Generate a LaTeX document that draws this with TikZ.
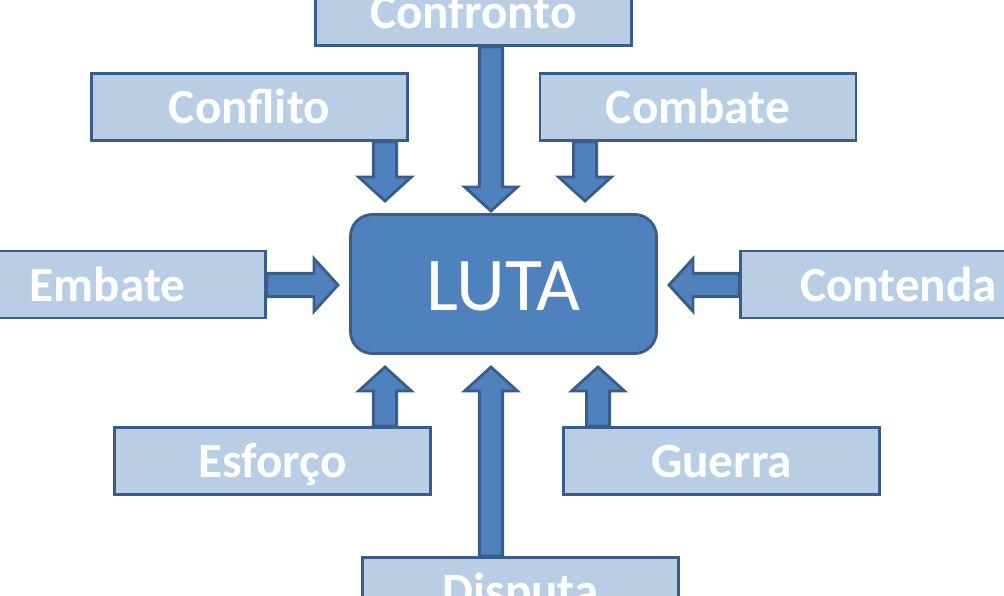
\documentclass[tikz,border=0pt]{standalone}
\usepackage{fontspec}
\setmainfont{Carlito}
\usetikzlibrary{calc}

\definecolor{boxfill}{HTML}{B9CDE5}
\definecolor{boxline}{HTML}{385D8A}
\definecolor{lutafill}{HTML}{4F81BD}

\tikzset{
  termo/.style={draw=boxline, fill=boxfill, line width=2pt, minimum width=7.9cm, minimum height=1.675cm,
    inner sep=0pt, text height=23.5pt, text depth=0pt, text=white, font=\bfseries\fontsize{35}{35}\selectfont},
  centro/.style={draw=boxline, fill=lutafill, line width=2pt, rounded corners=0.55cm, minimum width=7.65cm,
    minimum height=3.475cm, inner sep=0pt, text height=38pt, text depth=0pt, text=white,
    font=\fontsize{54}{54}\selectfont},
  seta/.style={draw=boxline, fill=lutafill, line width=2pt}
}

% block arrow from #1 to tip #2
\newcommand{\blockarrow}[2]{%
  \draw[seta] ($(#1)!0.29cm!90:(#2)$) -- ($(#2)!0.6cm!(#1)!0.29cm!-90:(#1)$)
    -- ($(#2)!0.6cm!(#1)!0.66cm!-90:(#1)$) -- (#2)
    -- ($(#2)!0.6cm!(#1)!0.66cm!90:(#1)$) -- ($(#2)!0.6cm!(#1)!0.29cm!90:(#1)$)
    -- ($(#1)!0.29cm!-90:(#2)$) -- cycle;}

\begin{document}
\begin{tikzpicture}[x=0.025cm, y=-0.025cm]
    \useasboundingbox (0,0) rectangle (1004,596);

    % Central node
    \node[centro] (luta) at (503.5,284) {LUTA};

    % Surrounding terms
    \foreach \name/\x/\y/\txt in {confronto/473.5/12/Confronto, conflito/249.5/107/Conflito, combate/698/107/Combate,
      embate/107.5/284.5/Embate, contenda/898.5/284.5/Contenda, esforco/272.5/461/Esforço,
      guerra/721.5/461/Guerra, disputa/520.5/591/Disputa} {
      \node[termo] (\name) at (\x,\y) {\txt};
    }

    % Vertical arrows
    \foreach \name/\side/\x/\y in {conflito/south/385/201, confronto/south/491/211, combate/south/585/201,
      esforco/north/385/367, disputa/north/491/367, guerra/north/598/367} {
      \coordinate (tip-\name) at (\x,\y);
      \coordinate (start-\name) at (\name.\side -| tip-\name);
      \blockarrow{start-\name}{tip-\name}
    }

    % Horizontal arrows
    \foreach \name/\side/\x/\y in {embate/east/338/285, contenda/west/669/285} {
      \coordinate (tip-\name) at (\x,\y);
      \coordinate (start-\name) at (\name.\side |- tip-\name);
      \blockarrow{start-\name}{tip-\name}
    }

  \end{tikzpicture}
\end{document}
